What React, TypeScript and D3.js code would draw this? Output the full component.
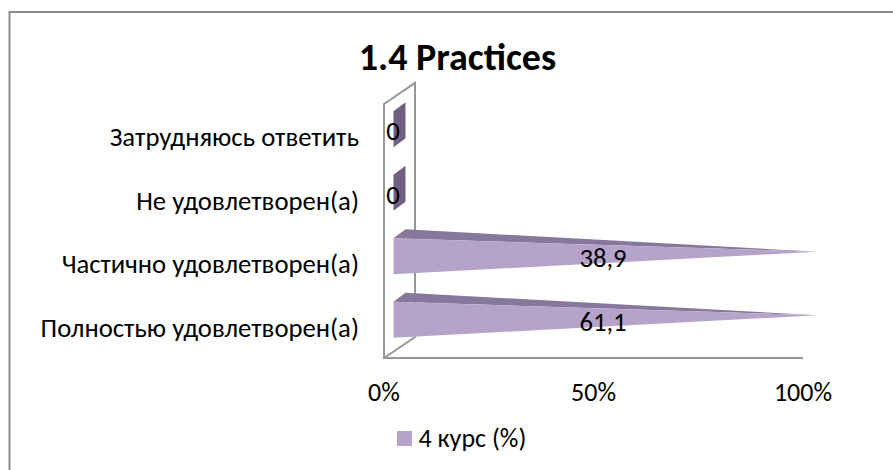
import React from "react";
import * as d3 from "d3";

const title = "1.4 Practices";
const categories = ["Полностью удовлетворен(а)", "Частично удовлетворен(а)", "Не удовлетворен(а)", "Затрудняюсь ответить"];
const values = [61.1, 38.9, 0, 0];
const valueLabels = ["61,1", "38,9", "0", "0"];
const xTicks = [0, 50, 100];
const seriesName = "4 курс (%)";

const W = 893, H = 470;
const front = { left: 384, right: 803, top: 104, bottom: 358 };
const depth = { dx: 31, dy: -21 };

export default function App() {
  const x = d3.scaleLinear().domain([0, 100]).range([front.left, front.right]);
  const y = d3.scaleBand<string>().domain(categories).range([front.bottom, front.top]);
  const pct = (v: number) => (v > 0 ? 100 : 0);
  const font = "Carlito, Lato, 'Open Sans', sans-serif";
  const line = d3.line();
  const barDx = 9.5, barH = 36, topDx = 12, topDy = -9;
  const purple = "#b5a3c9", dark = "#86789a", side = "#6f6082";
  return (
    <svg width={W} height={H} style={{ position: "absolute", left: 0, top: 0 }} fontFamily={font}>
      <path d={`M9.5,${H}V12H${W}`} fill="none" stroke="#8c8c8c" strokeWidth={2} />
      <text x={457.5} y={70} textAnchor="middle" fontSize={38} fontWeight={700} fill="#000">{title}</text>
      <path
        d={line([
          [front.left, front.bottom],
          [front.left, front.top],
          [front.left + depth.dx, front.top + depth.dy],
          [front.left + depth.dx, front.bottom + depth.dy],
          [front.left, front.bottom],
        ]) ?? ""}
        fill="none"
        stroke="#979797"
        strokeWidth={2}
      />
      <line x1={front.left - 1} x2={front.right} y1={front.bottom} y2={front.bottom} stroke="#979797" strokeWidth={2} />
      {categories.map((c, i) => {
        const yc = y(c)! + y.bandwidth() / 2 - 6.5;
        const x0 = x(0) + barDx;
        const xEnd = x(pct(values[i])) + barDx + 4.5 * (pct(values[i]) / 100);
        const t = yc - barH / 2, b = yc + barH / 2;
        const tipY = yc - 4.5;
        if (values[i] === 0) {
          return (
            <path key={c} d={line([[x0, t], [x0 + topDx, t + topDy], [x0 + topDx, b + topDy], [x0, b]]) + "Z"} fill={side} />
          );
        }
        return (
          <g key={c}>
            <path d={line([[x0, t], [x0 + topDx, t + topDy], [xEnd, tipY]]) + "Z"} fill={dark} />
            <path d={line([[x0, t], [x0, b], [xEnd, tipY]]) + "Z"} fill={purple} />
          </g>
        );
      })}
      {categories.map((c) => (
        <text key={c} x={359} y={y(c)! + y.bandwidth() / 2 + 10.5} textAnchor="end" fontSize={26.7} fill="#000">{c}</text>
      ))}
      {categories.map((c, i) => (
        <text
          key={c}
          x={values[i] > 0 ? x(50) + barDx : 393}
          y={y(c)! + y.bandwidth() / 2 + 4.5}
          textAnchor="middle"
          fontSize={26.7}
          fill="#000"
        >
          {valueLabels[i]}
        </text>
      ))}
      {xTicks.map((t) => (
        <text key={t} x={x(t)} y={401} textAnchor="middle" fontSize={26} fill="#000">{t}%</text>
      ))}
      <rect x={397} y={431} width={15} height={15} fill={purple} />
      <text x={418.5} y={447} fontSize={26} fill="#000">{seriesName}</text>
    </svg>
  );
}
